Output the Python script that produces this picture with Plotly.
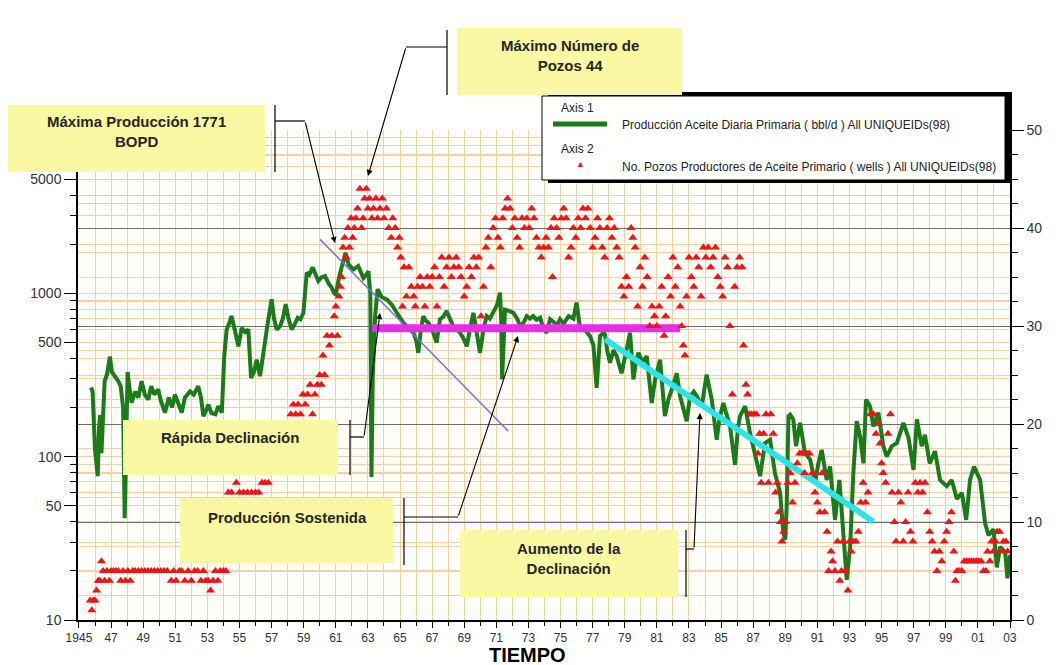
import plotly.graph_objects as go

# ---------------- data ----------------
# Daily primary oil production (bbl/d), left log axis
production = [
    (1945.75, 265), (1945.85, 250), (1946.0, 110), (1946.1, 80), (1946.17, 76), (1946.25, 150),
    (1946.32, 180), (1946.4, 105), (1946.5, 200), (1946.6, 290), (1946.75, 320), (1946.93, 410),
    (1947.05, 330), (1947.25, 310), (1947.45, 290), (1947.6, 270), (1947.75, 200), (1947.85, 42),
    (1947.95, 150), (1948.03, 330), (1948.15, 260), (1948.28, 214), (1948.5, 250), (1948.7, 230),
    (1948.9, 290), (1949.1, 240), (1949.32, 224), (1949.5, 270), (1949.7, 240), (1949.94, 258),
    (1950.1, 220), (1950.36, 186), (1950.6, 230), (1950.8, 200), (1950.98, 240), (1951.2, 210),
    (1951.4, 186), (1951.6, 230), (1951.92, 251), (1952.15, 240), (1952.43, 270), (1952.6, 230),
    (1952.75, 177), (1952.9, 190), (1953.06, 208), (1953.25, 185), (1953.5, 182), (1953.68, 204),
    (1953.9, 186), (1954.05, 412), (1954.2, 601), (1954.35, 650), (1954.5, 726), (1954.7, 600),
    (1954.93, 474), (1955.14, 614), (1955.35, 580), (1955.55, 601), (1955.72, 304), (1955.9, 330),
    (1956.07, 392), (1956.28, 311), (1956.5, 420), (1956.7, 601), (1957.0, 919), (1957.15, 700),
    (1957.32, 601), (1957.52, 628), (1957.7, 700), (1957.88, 860), (1958.05, 700), (1958.25, 601),
    (1958.45, 650), (1958.63, 709), (1958.8, 694), (1958.98, 760), (1959.19, 1340), (1959.35, 1300),
    (1959.56, 1440), (1959.75, 1300), (1959.91, 1190), (1960.1, 1250), (1960.33, 1275), (1960.55, 1150),
    (1960.74, 1084), (1960.9, 1000), (1961.0, 986), (1961.2, 1250), (1961.47, 1619), (1961.6, 1771),
    (1961.8, 1500), (1962.1, 1400), (1962.4, 1470), (1962.72, 1240), (1962.9, 1300), (1963.03, 1366),
    (1963.15, 1000), (1963.22, 75), (1963.3, 300), (1963.45, 726), (1963.6, 1059), (1963.85, 950),
    (1964.17, 919), (1964.5, 850), (1964.8, 760), (1965.2, 661), (1965.5, 620), (1965.83, 574),
    (1966.0, 520), (1966.14, 432), (1966.3, 600), (1966.45, 726), (1966.6, 680), (1966.76, 661),
    (1967.0, 600), (1967.28, 499), (1967.49, 694), (1967.7, 720), (1967.9, 780), (1968.1, 700),
    (1968.32, 628), (1968.55, 600), (1968.74, 574), (1968.95, 530), (1969.16, 474), (1969.35, 600),
    (1969.57, 760), (1969.75, 600), (1969.98, 432), (1970.2, 600), (1970.4, 726), (1970.6, 700),
    (1970.81, 760), (1971.05, 850), (1971.23, 1009), (1971.3, 700), (1971.36, 297), (1971.45, 600),
    (1971.54, 795), (1971.8, 780), (1972.06, 760), (1972.3, 700), (1972.48, 628), (1972.7, 661),
    (1972.9, 726), (1973.1, 700), (1973.3, 726), (1973.5, 690), (1973.73, 709), (1973.95, 600),
    (1974.14, 574), (1974.35, 694), (1974.6, 660), (1974.8, 640), (1974.97, 694), (1975.2, 650),
    (1975.5, 726), (1975.8, 700), (1976.0, 877), (1976.2, 628), (1976.5, 600), (1976.84, 547),
    (1977.05, 480), (1977.25, 264), (1977.46, 547), (1977.67, 574), (1977.77, 560), (1977.9, 450),
    (1978.08, 376), (1978.3, 450), (1978.5, 412), (1978.8, 324), (1979.0, 400), (1979.33, 574),
    (1979.54, 297), (1979.7, 380), (1979.85, 432), (1980.1, 380), (1980.37, 412), (1980.68, 213),
    (1980.9, 300), (1981.2, 392), (1981.5, 177), (1981.7, 220), (1981.93, 258), (1982.24, 324),
    (1982.45, 234), (1982.86, 165), (1983.07, 234), (1983.3, 250), (1983.49, 234), (1983.8, 204),
    (1984.1, 318), (1984.42, 224), (1984.73, 127), (1984.9, 170), (1985.14, 213), (1985.35, 180),
    (1985.56, 153), (1985.87, 89), (1986.05, 150), (1986.18, 177), (1986.5, 204), (1986.8, 140),
    (1987.12, 100), (1987.43, 76), (1987.74, 121), (1988.05, 127), (1988.36, 79), (1988.68, 60),
    (1988.88, 34), (1989.0, 31), (1989.09, 50), (1989.2, 177), (1989.3, 181), (1989.5, 169),
    (1989.67, 116), (1989.92, 161), (1990.23, 105), (1990.55, 96), (1990.86, 69), (1991.05, 90),
    (1991.27, 110), (1991.58, 72), (1991.79, 87), (1992.1, 41), (1992.37, 72), (1992.62, 31),
    (1992.83, 17.6), (1993.04, 28), (1993.24, 79), (1993.45, 165), (1993.66, 133), (1993.87, 91),
    (1994.03, 224), (1994.28, 204), (1994.49, 153), (1994.8, 186), (1995.11, 116), (1995.32, 100),
    (1995.64, 116), (1995.95, 121), (1996.36, 161), (1996.68, 130), (1996.99, 83), (1997.2, 169),
    (1997.5, 116), (1997.7, 136), (1998.0, 91), (1998.33, 108), (1998.64, 72), (1999.06, 66),
    (1999.37, 72), (1999.69, 55), (2000.0, 60), (2000.27, 41), (2000.51, 72), (2000.76, 87),
    (2001.14, 72), (2001.45, 39), (2001.66, 33), (2001.97, 36), (2002.18, 21), (2002.38, 28),
    (2002.7, 26), (2002.84, 18), (2003.0, 25),
]

# Number of producing wells, right linear axis
wells = [
    (1945.7, 2), (1945.8, 1), (1945.9, 2), (1946.0, 2), (1946.1, 3), (1946.2, 4), (1946.3, 4),
    (1946.4, 6), (1946.5, 5), (1946.6, 4), (1946.75, 5), (1946.9, 4), (1947.0, 5), (1947.15, 5),
    (1947.3, 5), (1947.45, 5), (1947.6, 4), (1947.75, 5), (1947.9, 4), (1948.05, 5), (1948.2, 4),
    (1948.35, 5), (1948.5, 5), (1948.7, 5), (1948.9, 5), (1949.1, 5), (1949.3, 5), (1949.5, 5),
    (1949.7, 5), (1949.9, 5), (1950.1, 5), (1950.3, 5), (1950.5, 5), (1950.75, 4), (1950.9, 5),
    (1951.05, 4), (1951.25, 5), (1951.4, 5), (1951.6, 4), (1951.8, 5), (1952.0, 4), (1952.2, 5),
    (1952.4, 5), (1952.6, 4), (1952.75, 5), (1952.9, 4), (1953.05, 4), (1953.2, 3), (1953.35, 4),
    (1953.5, 5), (1953.65, 4), (1953.8, 5), (1954.0, 5), (1954.15, 5),
    (1954.3, 13), (1954.5, 13), (1954.8, 14), (1955.0, 13), (1955.25, 13), (1955.5, 13),
    (1955.75, 13), (1956.0, 13), (1956.2, 13), (1956.4, 14), (1956.6, 14), (1956.8, 14),
    (1957.1, 15), (1957.4, 16), (1957.7, 18), (1958.0, 20),
    (1958.2, 21), (1958.35, 22), (1958.5, 21), (1958.65, 22), (1958.8, 21), (1958.95, 23),
    (1959.1, 22), (1959.25, 23), (1959.4, 24), (1959.55, 21), (1959.7, 23), (1959.85, 24),
    (1960.0, 25), (1960.1, 24), (1960.2, 27), (1960.3, 25), (1960.45, 29), (1960.6, 28),
    (1960.75, 29), (1960.9, 31), (1961.0, 32), (1961.1, 29), (1961.2, 33), (1961.28, 34),
    (1961.36, 35), (1961.45, 38), (1961.55, 39), (1961.65, 37), (1961.75, 40), (1961.85, 38),
    (1961.95, 41), (1962.05, 39), (1962.15, 40), (1962.25, 41), (1962.35, 42), (1962.5, 44),
    (1962.6, 40), (1962.7, 41), (1962.8, 43), (1962.9, 44), (1963.0, 42), (1963.1, 43),
    (1963.25, 41), (1963.35, 42), (1963.5, 43), (1963.6, 41), (1963.75, 42), (1963.9, 43),
    (1964.0, 41), (1964.15, 42), (1964.3, 40), (1964.45, 39), (1964.55, 41), (1964.7, 40),
    (1964.85, 38), (1964.95, 39), (1965.05, 37), (1965.15, 32), (1965.25, 36), (1965.4, 33),
    (1965.55, 36), (1965.7, 34), (1965.85, 33), (1965.95, 32), (1966.1, 34), (1966.25, 35),
    (1966.4, 34), (1966.55, 32), (1966.7, 35), (1966.85, 34), (1967.0, 35), (1967.15, 36),
    (1967.3, 32), (1967.45, 35), (1967.6, 37), (1967.75, 34), (1967.9, 36), (1968.05, 37),
    (1968.2, 35), (1968.35, 36), (1968.5, 37), (1968.65, 36), (1968.8, 35), (1969.0, 33),
    (1969.15, 34), (1969.3, 36), (1969.45, 35), (1969.6, 37), (1969.75, 36), (1969.9, 37),
    (1970.05, 31), (1970.2, 34), (1970.35, 38), (1970.5, 39), (1970.65, 36), (1970.8, 40),
    (1970.95, 41), (1971.1, 39), (1971.25, 38), (1971.4, 41), (1971.55, 42), (1971.7, 43),
    (1971.85, 42), (1972.0, 40), (1972.15, 41), (1972.3, 39), (1972.45, 38), (1972.6, 41),
    (1972.75, 40), (1972.9, 41), (1973.05, 40), (1973.2, 42), (1973.35, 41), (1973.5, 39),
    (1973.65, 38), (1973.8, 37), (1973.95, 38), (1974.1, 39), (1974.25, 38), (1974.4, 40),
    (1974.5, 35), (1974.6, 41), (1974.75, 40), (1974.9, 39), (1975.05, 41), (1975.2, 42),
    (1975.35, 41), (1975.5, 37), (1975.65, 38), (1975.8, 40), (1975.95, 39), (1976.1, 41),
    (1976.25, 40), (1976.4, 42), (1976.55, 41), (1976.7, 42), (1976.85, 40), (1977.0, 38),
    (1977.15, 39), (1977.3, 41), (1977.45, 40), (1977.6, 38), (1977.75, 37), (1977.9, 40),
    (1978.05, 41), (1978.2, 39), (1978.35, 40), (1978.5, 38), (1978.65, 37), (1978.8, 34),
    (1978.95, 33), (1979.1, 35), (1979.25, 34), (1979.4, 40), (1979.5, 39), (1979.65, 38),
    (1979.8, 32), (1979.95, 36), (1980.1, 34), (1980.25, 37), (1980.4, 35), (1980.55, 30),
    (1980.7, 32), (1980.85, 31), (1981.0, 30), (1981.15, 32), (1981.3, 34), (1981.45, 29),
    (1981.55, 31), (1981.7, 35), (1981.85, 33), (1982.0, 37), (1982.15, 34), (1982.3, 36),
    (1982.45, 32), (1982.55, 30), (1982.65, 28), (1982.75, 27), (1982.85, 33), (1983.0, 37),
    (1983.15, 35), (1983.3, 34), (1983.45, 37), (1983.6, 36), (1983.75, 33), (1983.9, 38),
    (1984.05, 37), (1984.2, 38), (1984.35, 36), (1984.5, 37), (1984.65, 38), (1984.8, 35),
    (1984.95, 34), (1985.1, 33), (1985.25, 37), (1985.4, 36), (1985.55, 30), (1985.7, 23),
    (1985.85, 34), (1986.0, 36), (1986.15, 37), (1986.3, 36), (1986.4, 28), (1986.55, 24),
    (1986.65, 23), (1986.75, 21), (1986.9, 21), (1987.05, 21), (1987.2, 21), (1987.3, 17),
    (1987.4, 19), (1987.5, 14), (1987.65, 19), (1987.8, 21), (1987.95, 14), (1988.1, 21),
    (1988.25, 19), (1988.4, 13), (1988.5, 14), (1988.6, 11), (1988.7, 10), (1988.8, 8),
    (1988.9, 9), (1989.0, 10), (1989.15, 14), (1989.3, 15), (1989.45, 12), (1989.6, 14),
    (1989.75, 16), (1989.9, 17), (1990.05, 17), (1990.2, 15), (1990.35, 17), (1990.5, 17),
    (1990.7, 15), (1990.85, 13), (1991.0, 12), (1991.15, 11), (1991.3, 15), (1991.45, 11),
    (1991.6, 9), (1991.7, 5), (1991.85, 7), (1991.95, 6), (1992.1, 5), (1992.25, 8),
    (1992.4, 4), (1992.5, 5), (1992.6, 8), (1992.75, 5), (1992.9, 3), (1993.0, 8),
    (1993.1, 7), (1993.25, 8), (1993.4, 8), (1993.55, 9), (1993.7, 12), (1993.85, 14),
    (1994.0, 12), (1994.15, 13), (1994.3, 21), (1994.5, 21), (1994.65, 19), (1994.8, 20),
    (1994.9, 18), (1995.0, 16), (1995.1, 15), (1995.25, 14), (1995.4, 19), (1995.55, 21),
    (1995.65, 13), (1995.8, 10), (1995.9, 8), (1996.05, 13), (1996.2, 12), (1996.35, 8),
    (1996.5, 10), (1996.65, 13), (1996.8, 9), (1996.95, 8), (1997.1, 14), (1997.25, 13),
    (1997.4, 14), (1997.55, 13), (1997.7, 14), (1997.85, 11), (1998.0, 9), (1998.15, 8),
    (1998.3, 7), (1998.45, 5), (1998.6, 7), (1998.75, 6), (1998.9, 8), (1999.05, 9),
    (1999.2, 10), (1999.35, 11), (1999.5, 7), (1999.6, 4), (1999.7, 5), (1999.85, 5),
    (2000.0, 5), (2000.15, 6), (2000.3, 6), (2000.45, 6), (2000.6, 6), (2000.75, 6),
    (2000.9, 6), (2001.05, 6), (2001.2, 6), (2001.35, 5), (2001.5, 5), (2001.6, 7),
    (2001.75, 6), (2001.85, 8), (2001.95, 7), (2002.1, 8), (2002.2, 9), (2002.35, 9),
    (2002.5, 7), (2002.6, 8), (2002.75, 8), (2002.85, 7),
]

# Trend lines (year, bbl/d)
trend_rapid_year = [1960.02, 1971.75]
trend_rapid_bopd = [2140, 143]
trend_sustained_year = [1963.25, 1982.45]
trend_sustained_bopd = [612, 612]
trend_increase_year = [1977.77, 1994.49]
trend_increase_bopd = [523, 40]

x_tick_years = list(range(1945, 2004, 2))
x_tick_text = ["1945"] + ["%02d" % (y % 100) for y in x_tick_years[1:]]
left_tick_vals = [10, 50, 100, 500, 1000, 5000]
left_minor_vals = [m * d for d in (10, 100, 1000) for m in (2, 3, 4, 6, 7, 8, 9)]
right_tick_vals = [0, 10, 20, 30, 40, 50]

prod_year = [p[0] for p in production]
prod_bopd = [p[1] for p in production]
wells_year = [w[0] for w in wells]
wells_count = [w[1] for w in wells]

# ---------------- styling ----------------
GREEN = "#1b7b1b"
RED = "#f01414"
ORANGE = "#f5cfa8"
DARKGRID = "#6e6e6e"
YELLOW = "#fbf8a4"
FONT = "Liberation Sans, Arial, sans-serif"

W, H = 1060, 665
L, R, T, B = 78, 1010, 130, 620


def PX(x):
    return (x - L) / (R - L)


def PY(y):
    return (B - y) / (B - T)


fig = go.Figure()

fig.add_trace(go.Scatter(x=prod_year, y=prod_bopd, mode="lines",
                         line=dict(color=GREEN, width=4), yaxis="y", showlegend=False))
fig.add_trace(go.Scatter(x=trend_rapid_year, y=trend_rapid_bopd, mode="lines",
                         line=dict(color="#7373dd", width=1.5), yaxis="y", showlegend=False))
fig.add_trace(go.Scatter(x=trend_sustained_year, y=trend_sustained_bopd, mode="lines",
                         line=dict(color="#e52ee5", width=8), yaxis="y", showlegend=False))
fig.add_trace(go.Scatter(x=trend_increase_year, y=trend_increase_bopd, mode="lines",
                         line=dict(color="#30e3e8", width=6), yaxis="y", showlegend=False))
fig.add_trace(go.Scatter(x=wells_year, y=wells_count, mode="markers",
                         marker=dict(symbol="triangle-up", size=8, color=RED, line=dict(width=0)),
                         yaxis="y2", showlegend=False))

shapes = []
annotations = []


def rect(x0, y0, x1, y1, fill, line=None, lw=0):
    shapes.append(dict(type="rect", xref="paper", yref="paper", layer="above",
                       x0=PX(x0), x1=PX(x1), y0=PY(y1), y1=PY(y0),
                       fillcolor=fill, line=dict(color=line or fill, width=lw)))


def seg(x0, y0, x1, y1, color="black", width=1.2):
    shapes.append(dict(type="line", xref="paper", yref="paper", layer="above",
                       x0=PX(x0), x1=PX(x1), y0=PY(y0), y1=PY(y1),
                       line=dict(color=color, width=width)))


def text(x, y, s, size=13, color="#262626", align="center", xanchor="center"):
    annotations.append(dict(x=PX(x), y=PY(y), xref="paper", yref="paper", text=s,
                            showarrow=False, xanchor=xanchor, yanchor="middle", align=align,
                            font=dict(family=FONT, size=size, color=color)))


def arrow(x_tail, y_tail, x_tip, y_tip):
    annotations.append(dict(x=PX(x_tip), y=PY(y_tip), xref="paper", yref="paper", text="",
                            showarrow=True, arrowhead=2, arrowsize=1.1, arrowwidth=1.1,
                            arrowcolor="black", ax=x_tail - x_tip, ay=y_tail - y_tip,
                            axref="pixel", ayref="pixel"))


# Legend (drawn manually)
rect(548, 92, 1012, 183, "black")
rect(542, 96, 1005, 180, "white", "black", 1)
text(559, 108, "Axis 1", size=12, xanchor="left", color="#222")
seg(553, 124, 607, 124, GREEN, 5)
text(620, 125, "Producción Aceite Diaria Primaria ( bbl/d ) All UNIQUEIDs(98)", size=12,
     xanchor="left", color="#222")
text(559, 149, "Axis 2", size=12, xanchor="left", color="#222")
text(580, 164, "▲", size=9, color=RED)
text(620, 167, "No. Pozos Productores de Aceite Primario ( wells ) All UNIQUEIDs(98)", size=12,
     xanchor="left", color="#222")

# Callout boxes
BOX_FS = 15
rect(8, 105, 265, 172, YELLOW)
text(136, 131, "<b>Máxima Producción 1771<br>BOPD</b>", size=BOX_FS)
seg(275, 105, 275, 172)
seg(275, 121, 305, 121)
arrow(305, 121, 335, 243)

rect(457, 28, 682, 95, YELLOW)
text(570, 56, "<b>Máximo Número de<br>Pozos 44</b>", size=BOX_FS)
seg(447, 30, 447, 95)
seg(447, 47, 406, 47)
arrow(406, 47, 368, 176)

rect(123, 420, 338, 475, YELLOW)
text(230, 437, "<b>Rápida Declinación</b>", size=BOX_FS)
seg(350, 420, 350, 475)
seg(350, 437, 364, 437)
arrow(364, 437, 380, 313)

rect(180, 498, 393, 563, YELLOW)
text(287, 517, "<b>Producción Sostenida</b>", size=BOX_FS)
seg(404, 498, 404, 565)
seg(404, 517, 458, 517)
arrow(458, 517, 518, 336)

rect(460, 530, 678, 597, YELLOW)
text(569, 558, "<b>Aumento de la<br>Declinación</b>", size=BOX_FS)
seg(686, 530, 686, 597)
seg(686, 549, 694, 549)
arrow(694, 549, 700, 413)

# Axis title
text(527, 655, "<b>TIEMPO</b>", size=20, color="black")

fig.update_layout(
    width=W, height=H, autosize=False,
    margin=dict(l=L, r=W - R, t=T, b=H - B),
    paper_bgcolor="white", plot_bgcolor="#fffef9",
    font=dict(family=FONT, color="#333"),
    showlegend=False,
    xaxis=dict(
        range=[1944.94, 2003.0], tickmode="array", tickvals=x_tick_years, ticktext=x_tick_text,
        ticks="outside", ticklen=6, tickcolor="black", tickwidth=1,
        showline=True, linecolor="black", linewidth=1.5, zeroline=False,
        showgrid=True, gridcolor=ORANGE, gridwidth=1,
        minor=dict(dtick=1, tick0=1945, ticks="outside", ticklen=4, tickcolor="black",
                   showgrid=True, gridcolor=ORANGE, gridwidth=1),
        tickfont=dict(family=FONT, size=12, color="#333"),
    ),
    yaxis=dict(
        type="log", range=[1, 4], tickmode="array", tickvals=left_tick_vals,
        ticktext=[str(v) for v in left_tick_vals],
        ticks="outside", ticklen=12, tickcolor="black", tickwidth=1,
        showline=True, linecolor="black", linewidth=1.5, zeroline=False,
        showgrid=True, gridcolor=ORANGE, gridwidth=1,
        minor=dict(tickmode="array", tickvals=left_minor_vals, ticks="outside", ticklen=6,
                   tickcolor="black", showgrid=True, gridcolor=ORANGE, gridwidth=1),
        tickfont=dict(family=FONT, size=14, color="#333"),
    ),
    yaxis2=dict(
        overlaying="y", side="right", range=[0, 50], tickmode="array", tickvals=right_tick_vals,
        ticks="outside", ticklen=12, tickcolor="black", tickwidth=1,
        showline=True, linecolor="black", linewidth=1.5, zeroline=False,
        showgrid=True, gridcolor=DARKGRID, gridwidth=1,
        minor=dict(dtick=2.5, tick0=0, ticks="outside", ticklen=6, tickcolor="black",
                   showgrid=True, gridcolor=ORANGE, gridwidth=1),
        tickfont=dict(family=FONT, size=14, color="#333"),
    ),
    shapes=shapes,
    annotations=annotations,
)

fig.write_html("out.html", config={"displayModeBar": False},
               post_script="document.body.style.margin='0';document.body.style.overflow='hidden';")
